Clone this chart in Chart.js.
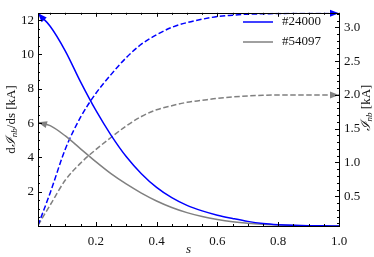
<!DOCTYPE html>
<html>
<head>
<meta charset="utf-8">
<script src="https://cdn.jsdelivr.net/npm/chart.js@4"></script>
<style>
  html, body { margin: 0; padding: 0; background: #fff; }
  #wrap { width: 374px; height: 257px; }
</style>
</head>
<body>
<div id="wrap"><canvas id="myChart"></canvas></div>
<script>
const sValues = [0.01, 0.05, 0.1, 0.15, 0.2, 0.25, 0.3, 0.35, 0.4, 0.45, 0.5,
                 0.55, 0.6, 0.65, 0.7, 0.75, 0.8, 0.85, 0.9, 0.95, 1.0];

// dI/ds [kA], left axis
const dI24000 = [12.4, 11.65, 10.2, 8.4, 6.75, 5.3, 4.05, 3.05, 2.25, 1.65, 1.2,
                 0.88, 0.63, 0.44, 0.27, 0.15, 0.08, 0.04, 0.02, 0.01, 0.0];
const dI54097 = [6.05, 5.85, 5.25, 4.5, 3.75, 3.05, 2.45, 1.92, 1.46, 1.08, 0.78,
                 0.55, 0.38, 0.25, 0.16, 0.1, 0.06, 0.03, 0.015, 0.005, 0.0];

// I [kA], right axis
const I24000 = [0.07, 0.55, 1.2, 1.67, 2.02, 2.3, 2.55, 2.75, 2.89, 3.0, 3.07,
                3.12, 3.16, 3.18, 3.195, 3.2, 3.205, 3.208, 3.21, 3.21, 3.21];
const I54097 = [0.07, 0.37, 0.74, 0.99, 1.19, 1.37, 1.54, 1.68, 1.78, 1.84, 1.89,
                1.92, 1.95, 1.97, 1.985, 1.995, 2.0, 2.0, 2.0, 2.0, 2.0];

const xTicks = [0.2, 0.4, 0.6, 0.8, 1.0];
const leftTicks = [2, 4, 6, 8, 10, 12];
const rightTicks = [0.5, 1.0, 1.5, 2.0, 2.5, 3.0];

const BLUE = '#0000ff';
const GRAY = '#808080';
const TEXT = '#111';
const FONT = '"Liberation Serif", "DejaVu Serif", serif';

function pts(ys) {
    return sValues.map((x, i) => ({x: x, y: ys[i]}));
}

// inward ticks, frame, arrowheads, axis titles, legend
const decor = {
    id: 'decor',
    afterDatasetsDraw(chart) {
        const ctx = chart.ctx;
        const ends = [[0, 'start'], [1, 'start'], [2, 'end'], [3, 'end']];
        ends.forEach(([i, where]) => {
            const d = chart.getDatasetMeta(i).data;
            const a = where === 'start' ? d[0] : d[d.length - 1];
            const b = where === 'start' ? d[1] : d[d.length - 2];
            const ang = Math.atan2(a.y - b.y, a.x - b.x);
            const L = 9, W = 3.5;
            ctx.save();
            ctx.fillStyle = chart.data.datasets[i].borderColor;
            ctx.translate(a.x, a.y);
            ctx.rotate(ang);
            ctx.beginPath();
            ctx.moveTo(0, 0);
            ctx.lineTo(-L, -W);
            ctx.lineTo(-L, W);
            ctx.closePath();
            ctx.fill();
            ctx.restore();
        });
    },
    afterDraw(chart) {
        const ctx = chart.ctx;
        const area = chart.chartArea;
        const sx = chart.scales.x, sl = chart.scales.yL, sr = chart.scales.yR;
        ctx.save();
        ctx.strokeStyle = '#000';
        ctx.lineWidth = 1;
        // ticks
        ctx.beginPath();
        for (let k = 1; k <= 20; k++) {
            const v = k * 0.05;
            if (v < sx.min) continue;
            const x = Math.round(sx.getPixelForValue(v)) + 0.5;
            const len = (k % 4 === 0) ? 4 : 2;
            ctx.moveTo(x, area.bottom); ctx.lineTo(x, area.bottom - len);
            ctx.moveTo(x, area.top); ctx.lineTo(x, area.top + len);
        }
        for (let k = 1; k <= 24; k++) {
            const v = k * 0.5;
            const y = Math.round(sl.getPixelForValue(v)) + 0.5;
            const len = (k % 4 === 0) ? 4 : 2;
            ctx.moveTo(area.left, y); ctx.lineTo(area.left + len, y);
        }
        for (let k = 1; k <= 32; k++) {
            const v = k * 0.1;
            const y = Math.round(sr.getPixelForValue(v)) + 0.5;
            const len = (k % 5 === 0) ? 4 : 2;
            ctx.moveTo(area.right, y); ctx.lineTo(area.right - len, y);
        }
        ctx.stroke();
        // frame
        ctx.strokeRect(Math.round(area.left) + 0.5, Math.round(area.top) + 0.5,
                       Math.round(area.right - area.left), Math.round(area.bottom - area.top));

        // axis titles
        ctx.fillStyle = TEXT;
        ctx.textBaseline = 'middle';
        function drawParts(parts, x, y, rot) {
            ctx.save();
            ctx.translate(x, y);
            ctx.rotate(rot);
            let total = 0;
            parts.forEach(p => { ctx.font = p.f; total += ctx.measureText(p.t).width; });
            let cx = -total / 2;
            parts.forEach(p => {
                ctx.font = p.f;
                ctx.textAlign = 'left';
                ctx.fillText(p.t, cx, p.dy || 0);
                cx += ctx.measureText(p.t).width;
            });
            ctx.restore();
        }
        const roman = '13px ' + FONT;
        const ital = 'italic 13px ' + FONT;
        const sub = 'italic 9px ' + FONT;
        drawParts([
            {t: 'd', f: roman},
            {t: 'ℐ', f: ital},
            {t: 'nb', f: sub, dy: 3},
            {t: '/ds [kA]', f: roman}
        ], 12, (area.top + area.bottom) / 2, -Math.PI / 2);
        drawParts([
            {t: 'ℐ', f: ital},
            {t: 'nb', f: sub, dy: 3},
            {t: ' [kA]', f: roman}
        ], 367, 108, -Math.PI / 2);
        drawParts([{t: 's', f: ital}], (area.left + area.right) / 2, 250, 0);

        // legend
        const items = [[0, 22], [1, 42]];
        items.forEach(([i, y]) => {
            const ds = chart.data.datasets[i];
            ctx.strokeStyle = ds.borderColor;
            ctx.lineWidth = 1.5;
            ctx.beginPath();
            ctx.moveTo(243, y); ctx.lineTo(273, y);
            ctx.stroke();
            ctx.font = roman;
            ctx.fillStyle = TEXT;
            ctx.textAlign = 'left';
            ctx.fillText(ds.label, 282, y);
        });
        ctx.restore();
    }
};

const data = {
    datasets: [
    {
        label: '#24000',
        data: pts(dI24000),
        borderColor: BLUE,
        yAxisID: 'yL',
    },
    {
        label: '#54097',
        data: pts(dI54097),
        borderColor: GRAY,
        yAxisID: 'yL',
    },
    {
        label: '',
        data: pts(I24000),
        borderColor: BLUE,
        borderDash: [5.5, 2.5],
        yAxisID: 'yR',
    },
    {
        label: '',
        data: pts(I54097),
        borderColor: GRAY,
        borderDash: [5.5, 2.5],
        yAxisID: 'yR',
    }
]
};

const tickFont = {family: FONT, size: 13};

const config = {
    type: 'line',
    data: data,
    options: {
        responsive: false,
        animation: false,
        layout: {padding: {top: 4}},
        elements: {
            point: {radius: 0},
            line: {borderWidth: 1.5, cubicInterpolationMode: 'monotone', fill: false}
        },
        plugins: {legend: {display: false}, tooltip: {enabled: false}},
        scales: {
            x: {
                type: 'linear',
                min: 0.01, max: 1.0,
                grid: {display: false, drawTicks: false},
                border: {display: false},
                afterBuildTicks: s => { s.ticks = xTicks.map(v => ({value: v})); },
                afterFit: s => { s.height = 31; },
                ticks: {font: tickFont, color: TEXT, padding: 8, maxRotation: 0,
                        callback: v => v.toFixed(1)}
            },
            yL: {
                type: 'linear', position: 'left',
                min: 0, max: 12.43,
                grid: {display: false, drawTicks: false},
                border: {display: false},
                afterBuildTicks: s => { s.ticks = leftTicks.map(v => ({value: v})); },
                afterFit: s => { s.width = 38; },
                ticks: {font: tickFont, color: TEXT, padding: 4,
                        callback: v => String(v)}
            },
            yR: {
                type: 'linear', position: 'right',
                min: 0.06, max: 3.215,
                grid: {display: false, drawTicks: false},
                border: {display: false},
                afterBuildTicks: s => { s.ticks = rightTicks.map(v => ({value: v})); },
                afterFit: s => { s.width = 35; },
                ticks: {font: tickFont, color: TEXT, padding: 5,
                        callback: v => v.toFixed(1)}
            }
        }
    },
    plugins: [decor]
};

const canvas = document.getElementById('myChart');
canvas.width = 374;
canvas.height = 257;
const myChart = new Chart(canvas, config);
</script>
</body>
</html>
